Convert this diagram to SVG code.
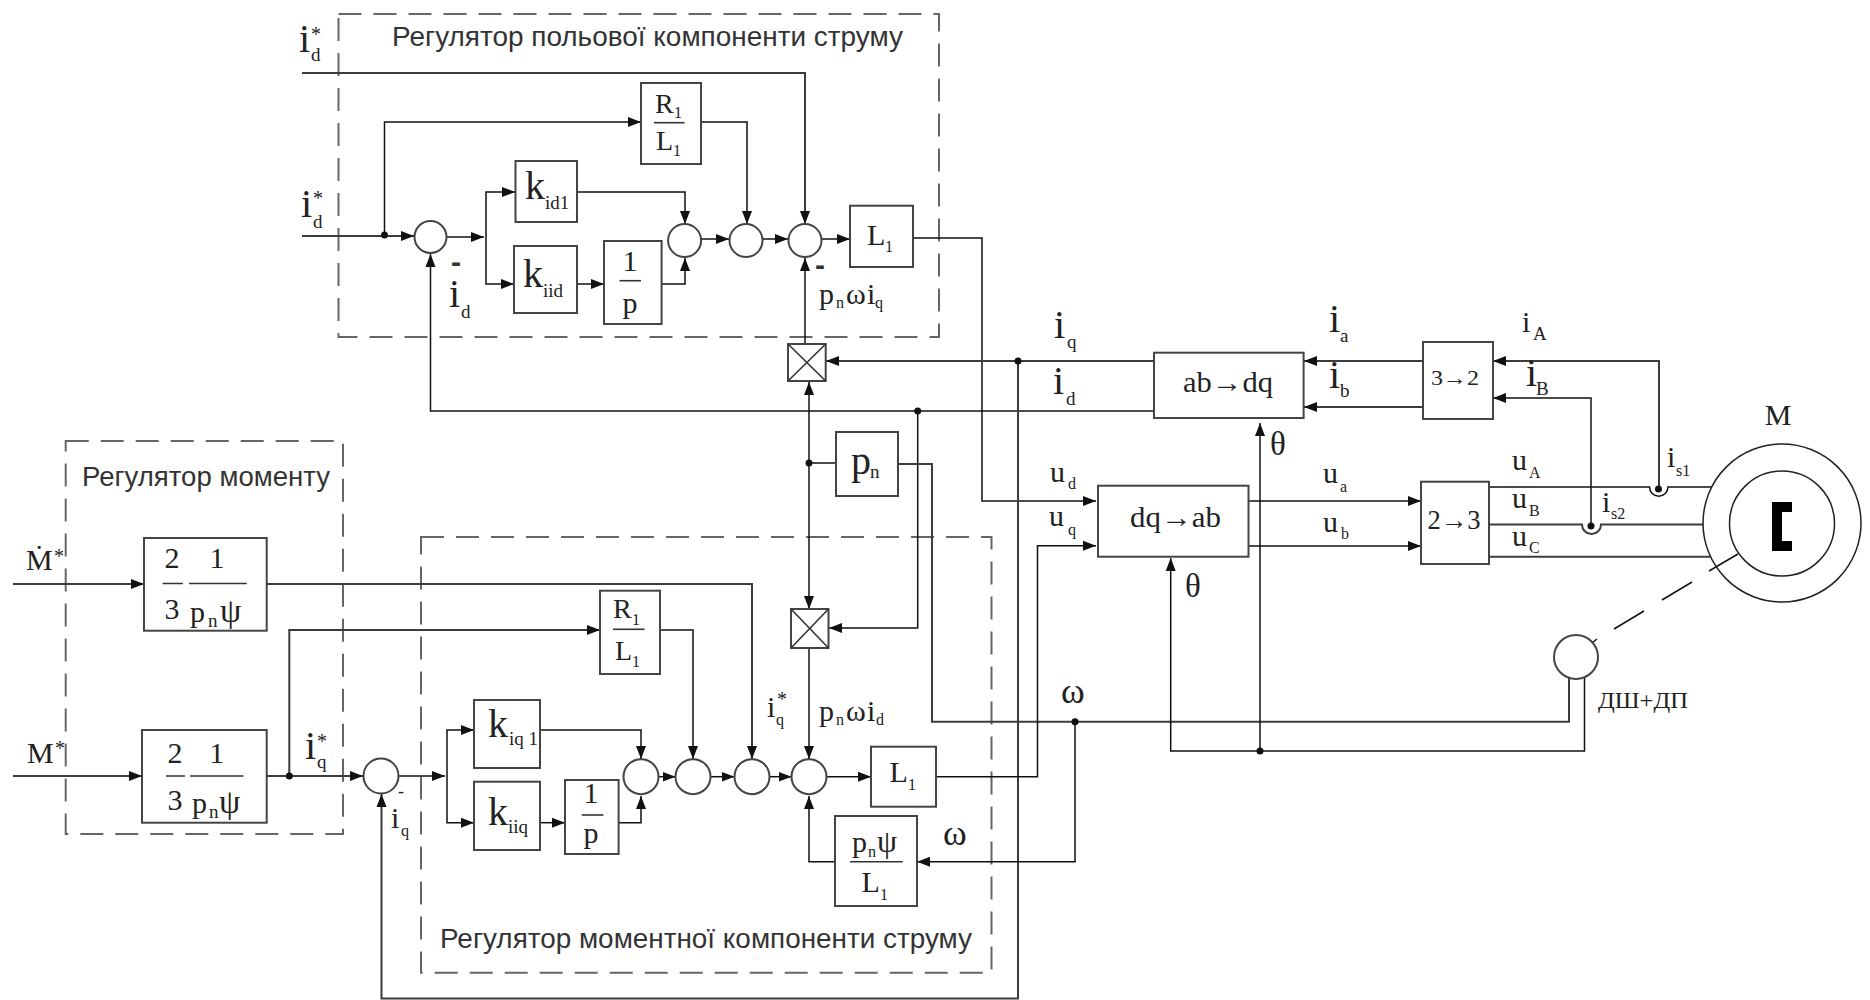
<svg xmlns="http://www.w3.org/2000/svg" width="1870" height="1000" viewBox="0 0 1870 1000">
<style>
text{font-family:"Liberation Serif","Times New Roman",serif;fill:#222}
.h{font-family:"Liberation Sans",Arial,sans-serif;fill:#333;font-size:27px}
.b{font-size:40px}.m{font-size:30px}.n{font-size:28px}.s{font-size:19px}.x{font-size:16px}.st{font-size:20px}.om{font-size:36px}.bar{font-family:"Liberation Sans",Arial,sans-serif;font-size:30px;font-weight:bold;fill:#333}
.c{text-anchor:middle}
.box,.sum{fill:#fff;stroke:#444;stroke-width:2}
.dash{fill:none;stroke:#666;stroke-width:2;stroke-dasharray:23 12}
.w{fill:none;stroke:#3c3c3c;stroke-width:2}
.t{fill:none;stroke:#111;stroke-width:1.5}
.f{stroke:#333;stroke-width:1.6;fill:none}
.d{fill:#111}
</style>
<defs>
<marker id="a" markerUnits="userSpaceOnUse" markerWidth="14" markerHeight="12" refX="13" refY="6" orient="auto-start-reverse"><path d="M0 1L13 6L0 11Z" fill="#111"/></marker>
</defs>
<rect width="1870" height="1000" fill="#fff"/>
<g id="regions">
<rect class="dash" x="338.5" y="14" width="600.5" height="323"/>
<rect class="dash" x="65.7" y="441" width="277.3" height="393"/>
<rect class="dash" x="421" y="537" width="570.5" height="435.7"/>
</g>
<g id="connectors">
<path class="w" marker-end="url(#a)" d="M302 73H805V224"/>
<path class="w" marker-end="url(#a)" d="M302 236H414"/>
<path class="t" marker-end="url(#a)" d="M384.5 236V122H641"/>
<path class="t" marker-end="url(#a)" d="M447 237H484"/>
<path class="t" marker-end="url(#a)" d="M486 237V192H515"/>
<path class="t" marker-end="url(#a)" d="M486 237V284H514"/>
<path class="t" marker-end="url(#a)" d="M577 192H685V224"/>
<path class="t" marker-end="url(#a)" d="M577 284H604"/>
<path class="t" marker-end="url(#a)" d="M661.6 284H685V258"/>
<path class="t" marker-end="url(#a)" d="M701 122H747V224"/>
<path class="t" marker-end="url(#a)" d="M701 239H729"/>
<path class="t" marker-end="url(#a)" d="M763 239H788"/>
<path class="t" marker-end="url(#a)" d="M822 239H850"/>
<path class="t" marker-end="url(#a)" d="M805 344V258"/>
<path class="t" marker-end="url(#a)" d="M913 238H982V501H1096"/>
<path class="w" marker-end="url(#a)" d="M1154 361H826"/>
<path class="t" marker-end="url(#a)" d="M1154 411H430.5V254"/>
<path class="t" marker-end="url(#a)" d="M917.7 411V628H829"/>
<path class="w" marker-end="url(#a)" d="M1018 361V998.5H381.5V794"/>
<path class="t" marker-start="url(#a)" marker-end="url(#a)" d="M809 382V609"/>
<path class="t" d="M809 463H836"/>
<path class="w" d="M898 464H932V721.7H1569V678"/>
<path class="t" marker-end="url(#a)" d="M1584.5 678V751H1170.7V558"/>
<path class="t" marker-end="url(#a)" d="M1260 751V423"/>
<path class="w" marker-end="url(#a)" d="M1423 361H1304"/>
<path class="w" marker-end="url(#a)" d="M1423 407H1304"/>
<path class="w" marker-end="url(#a)" d="M1659 489V361H1493"/>
<path class="t" marker-end="url(#a)" d="M1591 526V398H1493"/>
<path class="t" d="M1489 487H1649.5A9.2 9.2 0 0 0 1668 487H1712"/>
<path class="w" d="M1489 524.5H1582A9.5 9.5 0 0 0 1601 524.5H1703"/>
<path class="w" d="M1489 556.7H1710"/>
<path class="t" marker-end="url(#a)" d="M1248.5 501H1421"/>
<path class="t" marker-end="url(#a)" d="M1248.5 546H1421"/>
<path class="t" marker-end="url(#a)" d="M936 776.7H1037.5V545.7H1096"/>
<path class="w" marker-end="url(#a)" d="M13 584H144"/>
<path class="w" marker-end="url(#a)" d="M13 776H142"/>
<path class="w" marker-end="url(#a)" d="M266.7 584H752V759"/>
<path class="w" marker-end="url(#a)" d="M266.7 776H363"/>
<path class="w" marker-end="url(#a)" d="M289.3 776V630H600"/>
<path class="t" marker-end="url(#a)" d="M398.5 776H445"/>
<path class="t" marker-end="url(#a)" d="M447 776V730H474"/>
<path class="t" marker-end="url(#a)" d="M447 776V822.7H474"/>
<path class="t" marker-end="url(#a)" d="M540 730H641V759"/>
<path class="t" marker-end="url(#a)" d="M540 822.7H565"/>
<path class="t" marker-end="url(#a)" d="M618.6 822.7H641V796"/>
<path class="t" marker-end="url(#a)" d="M660 630H693V759"/>
<path class="t" marker-end="url(#a)" d="M658.5 776.7H675.5"/>
<path class="t" marker-end="url(#a)" d="M710.5 776.7H734.5"/>
<path class="t" marker-end="url(#a)" d="M769.5 776.7H791.5"/>
<path class="t" marker-end="url(#a)" d="M826.5 776.7H871"/>
<path class="t" marker-end="url(#a)" d="M809 648V759"/>
<path class="t" marker-end="url(#a)" d="M835 861.7H809V796"/>
<path class="t" marker-end="url(#a)" d="M1075 721.7V861.7H917"/>
<path class="t" d="M1738 554L1709 571M1692 582L1662 600M1644 611L1614 629M1597 639L1592 643"/>
<circle class="d" cx="384.5" cy="235" r="3.5"/>
<circle class="d" cx="917.7" cy="411" r="3.5"/>
<circle class="d" cx="1018" cy="361" r="3.5"/>
<circle class="d" cx="809" cy="463" r="3.5"/>
<circle class="d" cx="1260" cy="751" r="3.5"/>
<circle class="d" cx="1075" cy="721.7" r="3.5"/>
<circle class="d" cx="289.3" cy="776" r="3.5"/>
<circle class="d" cx="1658.5" cy="489" r="3.5"/>
<circle class="d" cx="1591" cy="526" r="3.5"/>
</g>
<g id="sum-d1"><circle class="sum" cx="430.5" cy="237" r="16"/></g>
<g id="sum-d2"><circle class="sum" cx="684.6" cy="240.5" r="16.5"/></g>
<g id="sum-d3"><circle class="sum" cx="746" cy="240.5" r="16.5"/></g>
<g id="sum-d4"><circle class="sum" cx="805" cy="240.5" r="16.5"/></g>
<g id="sum-q1"><circle class="sum" cx="381" cy="776" r="17.5"/></g>
<g id="sum-q2"><circle class="sum" cx="641" cy="776.7" r="17.5"/></g>
<g id="sum-q3"><circle class="sum" cx="693" cy="776.7" r="17.5"/></g>
<g id="sum-q4"><circle class="sum" cx="752" cy="776.7" r="17.5"/></g>
<g id="sum-q5"><circle class="sum" cx="809" cy="776.7" r="17.5"/></g>
<g id="mult-1"><rect class="box" x="788" y="344" width="37.7" height="37"/><path class="f" d="M788 344L825.7 381M825.7 344L788 381"/></g>
<g id="mult-2"><rect class="box" x="791" y="609" width="37.5" height="39"/><path class="f" d="M791 609L828.5 648M828.5 609L791 648"/></g>
<g id="r-l-d"><rect class="box" x="641" y="83" width="60" height="81"/><path class="f" d="M654 122.7H684.6"/><text class="n" x="655" y="113">R<tspan class="x" x="674" y="118">1</tspan></text><text class="n" x="656" y="150">L<tspan class="x" x="673" y="156">1</tspan></text></g>
<g id="k-id1"><rect class="box" x="515.5" y="161" width="61.5" height="61"/><text class="b" x="525" y="199">k<tspan class="s" x="545" y="209">id1</tspan></text></g>
<g id="k-iid"><rect class="box" x="514" y="246" width="63" height="67"/><text class="b" x="523" y="287">k<tspan class="s" x="543" y="297">iid</tspan></text></g>
<g id="int-d"><rect class="box" x="604" y="241" width="57.6" height="83"/><path class="f" d="M619.5 280.7H641"/><text class="m c" x="630" y="270.7">1</text><text class="m c" x="630" y="313">p</text></g>
<g id="l-d"><rect class="box" x="850" y="205.7" width="63" height="61.3"/><text class="m" x="867" y="245">L<tspan class="x" x="885" y="252">1</tspan></text></g>
<g id="pn"><rect class="box" x="836" y="432" width="62" height="64"/><text class="b" x="851" y="474">p<tspan class="s" x="870" y="478">n</tspan></text></g>
<g id="abdq"><rect class="box" x="1154" y="352.7" width="149.6" height="65.3"/><text class="n c" style="font-size:29px" x="1228" y="391.7" textLength="90" lengthAdjust="spacingAndGlyphs">ab→dq</text></g>
<g id="c32"><rect class="box" x="1423" y="342" width="70" height="77"/><text class="c" style="font-size:22px" x="1455" y="385" textLength="48" lengthAdjust="spacingAndGlyphs">3→2</text></g>
<g id="dqab"><rect class="box" x="1098" y="485.7" width="150.5" height="71"/><text class="n c" style="font-size:29px" x="1175.5" y="527" textLength="91" lengthAdjust="spacingAndGlyphs">dq→ab</text></g>
<g id="c23"><rect class="box" x="1421" y="481.7" width="68" height="82.3"/><text class="c" style="font-size:27px" x="1454" y="529" textLength="53" lengthAdjust="spacingAndGlyphs">2→3</text></g>
<g id="motor"><circle cx="1782" cy="523" r="79" fill="none" stroke="#222" stroke-width="1.5"/><circle cx="1782" cy="523.5" r="52.5" fill="none" stroke="#222" stroke-width="1.5"/><path d="M1772 502H1792V512H1782V541H1792V551H1772Z" fill="#000"/><text class="m c" x="1778" y="425">M</text></g>
<g id="sensor"><circle class="sum" cx="1576" cy="657" r="22"/><text style="font-size:23px" x="1598" y="708" textLength="90" lengthAdjust="spacingAndGlyphs">ДШ+ДП</text></g>
<g id="m-top"><rect class="box" x="144" y="538" width="122.7" height="92.7"/><path class="f" d="M162.7 583.5H183M189 583.5H246.7"/><text class="m c" x="172" y="568">2</text><text class="m c" x="172" y="619">3</text><text class="m c" x="217" y="568">1</text><text class="m" x="190" y="622">p<tspan class="s" x="208" y="627">n</tspan><tspan style="font-size:34px" x="220" y="622">ψ</tspan></text></g>
<g id="m-bottom"><rect class="box" x="142" y="730" width="124.7" height="92.7"/><path class="f" d="M166 776H185M190 776H243.3"/><text class="m c" x="175" y="762.7">2</text><text class="m c" x="175" y="810">3</text><text class="m c" x="216.7" y="762.7">1</text><text class="m" x="192" y="813">p<tspan class="s" x="209" y="818">n</tspan><tspan style="font-size:34px" x="219" y="813">ψ</tspan></text></g>
<g id="r-l-q"><rect class="box" x="600" y="590.7" width="60" height="83.3"/><path class="f" d="M613 629.3H644.6"/><text class="n" x="613" y="618">R<tspan class="x" x="632" y="625">1</tspan></text><text class="n" x="615" y="660">L<tspan class="x" x="632" y="666.7">1</tspan></text></g>
<g id="k-iq1"><rect class="box" x="474" y="700" width="66" height="68"/><text class="b" x="488" y="737">k<tspan class="s" x="509" y="745">iq 1</tspan></text></g>
<g id="k-iiq"><rect class="box" x="474" y="781.7" width="66" height="68.3"/><text class="b" x="488" y="825">k<tspan class="s" x="508" y="833">iiq</tspan></text></g>
<g id="int-q"><rect class="box" x="565" y="780" width="53.6" height="74"/><path class="f" d="M581.8 815H603.4"/><text class="m c" x="591" y="803">1</text><text class="m c" x="591" y="843">p</text></g>
<g id="l-q"><rect class="box" x="871" y="746.7" width="65" height="60"/><text class="m" x="889.6" y="782">L<tspan class="x" x="908" y="790">1</tspan></text></g>
<g id="pnpsi"><rect class="box" x="835" y="816" width="82" height="90"/><path class="f" d="M850 861.7H902.7"/><text class="m" x="852" y="851.7">p<tspan class="x" x="868" y="857">n</tspan><tspan style="font-size:32px" x="877" y="851.7">ψ</tspan></text><text class="m" x="861.5" y="892">L<tspan class="x" x="880" y="900">1</tspan></text></g>
<g id="labels">
<text class="h" x="392" y="46" textLength="511" lengthAdjust="spacingAndGlyphs">Регулятор польової компоненти струму</text>
<text class="h" x="82" y="486" textLength="248" lengthAdjust="spacingAndGlyphs">Регулятор моменту</text>
<text class="h" x="440" y="948" textLength="532" lengthAdjust="spacingAndGlyphs">Регулятор моментної компоненти струму</text>
<text class="b" x="299" y="52">i<tspan class="s" x="311" y="61">d</tspan><tspan class="st" x="311" y="41">*</tspan></text>
<text class="b" x="301" y="217">i<tspan class="s" x="313" y="228">d</tspan><tspan class="st" x="313" y="205">*</tspan></text>
<text class="b" x="449" y="307">i<tspan class="s" x="461" y="318">d</tspan></text>
<text class="b" x="1054" y="338">i<tspan class="s" x="1067" y="348">q</tspan></text>
<text class="b" x="1053" y="394">i<tspan class="s" x="1066" y="405">d</tspan></text>
<text class="b" x="1329" y="332">i<tspan class="s" x="1340" y="342">a</tspan></text>
<text class="b" x="1329" y="388">i<tspan class="s" x="1340" y="397">b</tspan></text>
<text class="m" x="1522" y="332">i<tspan class="s" x="1533" y="340">A</tspan></text>
<text class="b" x="1526" y="386">i<tspan class="s" x="1536" y="395">B</tspan></text>
<text class="m" x="1667" y="467">i<tspan class="x" x="1676" y="476">s1</tspan></text>
<text class="m" x="1602" y="512">i<tspan class="x" x="1611" y="519">s2</tspan></text>
<text class="m" x="1050" y="482">u<tspan class="x" x="1068" y="489">d</tspan></text>
<text class="m" x="1049" y="526">u<tspan class="x" x="1068" y="535">q</tspan></text>
<text class="m" x="1323" y="483">u<tspan class="x" x="1340" y="492">a</tspan></text>
<text class="m" x="1323" y="532">u<tspan class="x" x="1341" y="539">b</tspan></text>
<text class="m" x="1512" y="470">u<tspan class="x" x="1529" y="478">A</tspan></text>
<text class="m" x="1512" y="508">u<tspan class="x" x="1529" y="516">B</tspan></text>
<text class="m" x="1512" y="546">u<tspan class="x" x="1529" y="553">C</tspan></text>
<text class="m" style="font-size:33px" x="1270" y="455">θ</text>
<text class="m" style="font-size:33px" x="1185" y="597">θ</text>
<text class="om" x="1061" y="703">ω</text>
<text class="om" x="943" y="845">ω</text>
<text class="m" x="819" y="304">p<tspan class="x" x="836" y="308">n</tspan><tspan x="846" y="304">ω</tspan><tspan x="867" y="304">i</tspan><tspan class="x" x="875" y="308">q</tspan></text>
<text class="m" x="819" y="721">p<tspan class="x" x="836" y="725">n</tspan><tspan x="846" y="721">ω</tspan><tspan x="867" y="721">i</tspan><tspan class="x" x="876" y="725">d</tspan></text>
<text class="m" x="26" y="570">Ṁ<tspan class="st" x="54" y="563">*</tspan></text>
<text class="m" x="27" y="763">M<tspan class="st" x="55" y="755">*</tspan></text>
<text class="b" x="305" y="759">i<tspan class="s" x="317" y="768">q</tspan><tspan class="st" x="317" y="748">*</tspan></text>
<text class="m" x="391" y="828">i<tspan class="x" x="401" y="836">q</tspan></text>
<text class="m" x="767" y="717">i<tspan class="x" x="776" y="725">q</tspan><tspan class="st" x="777" y="706">*</tspan></text>
<text class="bar" x="451" y="272">-</text>
<text class="bar" x="815" y="275">-</text>
<text style="font-size:18px" x="398" y="797">-</text>
</g>
</svg>
